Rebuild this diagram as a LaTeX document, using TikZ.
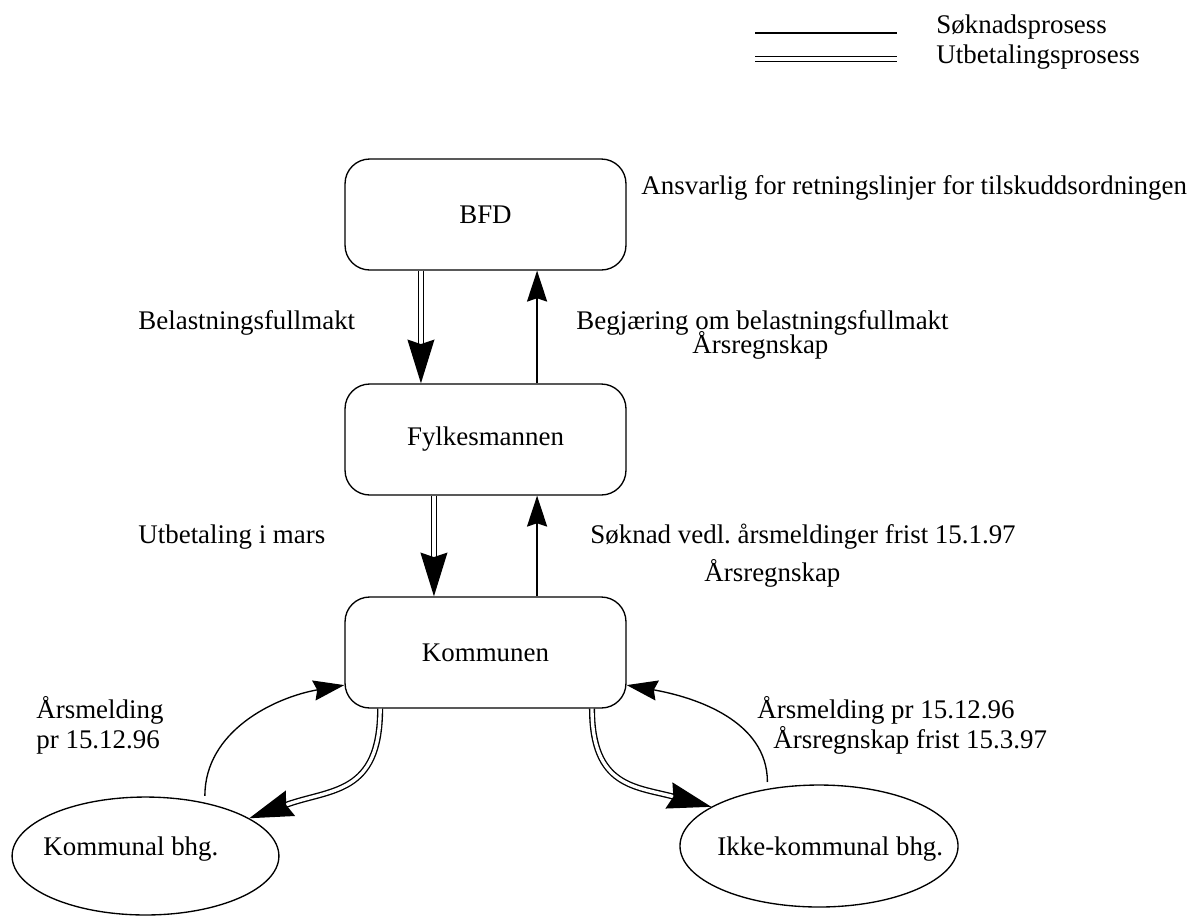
\documentclass[tikz,border=0pt]{standalone}
\usepackage{fontspec}
\setmainfont{Liberation Serif}
\usepackage{tikz}
\usetikzlibrary{shapes.geometric, arrows.meta}

\begin{document}
\begin{tikzpicture}[
        x = 0.446pt, y = -0.446pt,
        font = \fontsize{12}{14}\selectfont,
        box/.style = {draw, rectangle, rounded corners = 11pt, line width = 0.6pt, minimum width = 125.3pt, minimum height = 49.5pt},
        bhg/.style = {draw, ellipse, line width = 0.6pt, inner sep = 0pt},
        txt/.style = {anchor = west, inner sep = 0pt, text height = 1.5ex, text depth = 0.25ex},
        utbet/.style = {double, double distance = 1.5pt, line width = 0.6pt, -{Stealth[length = 19.5pt, width = 12pt, inset = 2pt]}},
        soknad/.style = {line width = 0.6pt, -{Stealth[length = 13.8pt, width = 9pt, inset = 1.5pt]}}
    ]
        \useasboundingbox (0, 0) rectangle (1194, 916);

        \draw
            (485.5, 214.5) node[box](bfd){BFD}
            (485.5, 439.5) node[box](fylk){Fylkesmannen}
            (485.5, 652.5) node[box](kom){Kommunen}

            (145.5, 856) node[bhg, minimum width = 119pt, minimum height = 52.6pt](kbhg){}
            (819, 846) node[bhg, minimum width = 124pt, minimum height = 54.4pt](ibhg){}
            (43, 849) node[txt](kbhgtxt){Kommunal bhg.}
            (717, 849) node[txt](ibhgtxt){Ikke-kommunal bhg.}
        ;

        % tekster
        \draw
            (641, 188) node[txt](ansvar){Ansvarlig for retningslinjer for tilskuddsordningen}
            (138, 323) node[txt](belast){Belastningsfullmakt}
            (576, 323) node[txt](begj){Begjæring om belastningsfullmakt}
            (692, 347) node[txt](aarsrA){Årsregnskap}
            (138, 537) node[txt](utbmars){Utbetaling i mars}
            (590, 537) node[txt](soknad){Søknad vedl.\ årsmeldinger frist 15.1.97}
            (704, 575) node[txt](aarsrB){Årsregnskap}
            (36, 712) node[txt](aarsmA){Årsmelding}
            (36, 742) node[txt](prA){pr 15.12.96}
            (757, 712) node[txt](aarsmB){Årsmelding pr 15.12.96}
            (773, 742) node[txt](aarsrC){Årsregnskap frist 15.3.97}
        ;

        % forklaring
        \coordinate (legSa) at (755, 33);
        \coordinate (legSb) at (897, 33);
        \coordinate (legUa) at (755, 59);
        \coordinate (legUb) at (897, 59);
        \draw[line width = 0.6pt] (legSa) -- (legSb);
        \draw[utbet, -] (legUa) -- (legUb);
        \draw
            (936, 27) node[txt](legS){Søknadsprosess}
            (936, 57) node[txt](legU){Utbetalingsprosess}
        ;

        \draw[utbet] ([xshift = -28.8pt]bfd.south) -- ([xshift = -28.8pt]fylk.north);
        \draw[soknad] ([xshift = 23pt]fylk.north) -- ([xshift = 23pt]bfd.south);
        \draw[utbet] ([xshift = -23pt]fylk.south) -- ([xshift = -23pt]kom.north);
        \draw[soknad] ([xshift = 23pt]kom.north) -- ([xshift = 23pt]fylk.south);

        \draw[utbet] ([xshift = -47pt]kom.south) to[out = -90, in = 20, looseness = 1.3] (kbhg.20);
        \draw[soknad, shorten <= 3pt] (kbhg.42) to[out = 90, in = 190] (kom.193);
        \draw[utbet] ([xshift = 47.5pt]kom.south) to[out = -90, in = 165, looseness = 1.3] (ibhg.160);
        \draw[soknad, shorten <= 3pt] (ibhg.132) to[out = 90, in = -10] (kom.-13);
    \end{tikzpicture}
\end{document}
